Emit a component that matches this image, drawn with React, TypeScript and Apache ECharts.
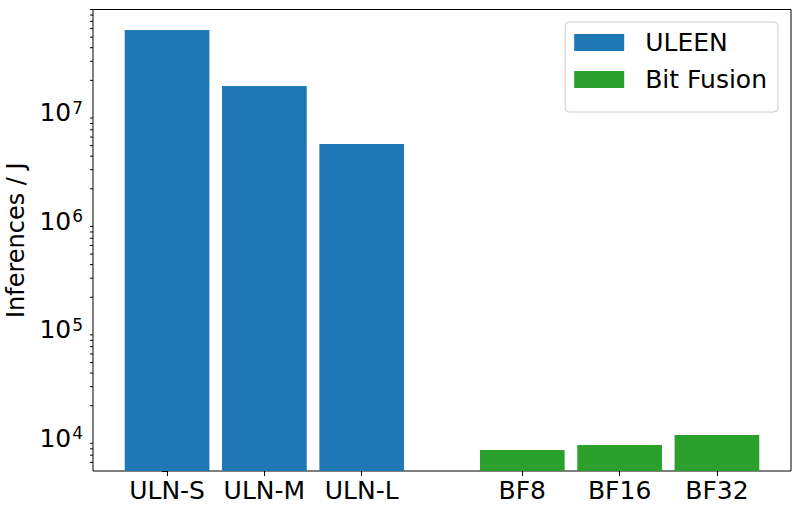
import React, { useEffect, useRef } from "react";
import * as echarts from "echarts";

// ---- data ----
const categories = ["ULN-S", "ULN-M", "ULN-L", "BF8", "BF16", "BF32"];
const xPositions = [0, 1, 2, 3.65, 4.65, 5.65];
const uleenValues = [5.83e7, 1.77e7, 5.18e6];
const bitFusionValues = [7800, 8670, 10720];
const yMajorTicks = [1e4, 1e5, 1e6, 1e7];
const yMinorTicks = [
  6000, 7000, 8000, 9000,
  2e4, 3e4, 4e4, 5e4, 6e4, 7e4, 8e4, 9e4,
  2e5, 3e5, 4e5, 5e5, 6e5, 7e5, 8e5, 9e5,
  2e6, 3e6, 4e6, 5e6, 6e6, 7e6, 8e6, 9e6,
  2e7, 3e7, 4e7, 5e7, 6e7, 7e7, 8e7, 9e7,
];

// ---- layout / style constants ----
const X_MIN = -0.761;
const X_MAX = 6.411;
const Y_MIN = 5000;
const Y_MAX = 9.0e7;
const BAR_W = 0.87;
const FONT = "DejaVu Sans";
const BLUE = "#1f77b4";
const GREEN = "#2ca02c";

const renderBar = (params: any, api: any) => {
  const x = api.value(0);
  const v = api.value(1);
  const p1 = api.coord([x - BAR_W / 2, v]);
  const p2 = api.coord([x + BAR_W / 2, Y_MIN]);
  return {
    type: "rect",
    shape: { x: p1[0], y: p1[1], width: p2[0] - p1[0], height: p2[1] - p1[1] },
    style: { fill: api.visual("color") },
  };
};

const makeTickRenderer = (len: number) => (params: any, api: any) => {
  const p = api.coord([api.value(0), api.value(1)]);
  return {
    type: "rect",
    shape: { x: p[0] - len, y: p[1] - 0.5, width: len, height: 1 },
    style: { fill: "#000" },
  };
};

export default function App() {
  const ref = useRef<HTMLDivElement>(null);
  useEffect(() => {
    if (!ref.current) return;
    const chart = echarts.init(ref.current, undefined, { renderer: "svg" });
    const uleenData = uleenValues.map((v, i) => [xPositions[i], v]);
    const bfData = bitFusionValues.map((v, i) => [xPositions[i + uleenValues.length], v]);
    chart.setOption({
      animation: false,
      backgroundColor: "#fff",
      grid: {
        left: 93,
        right: 9,
        top: 9.5,
        bottom: 44,
        show: true,
        borderColor: "#000",
        borderWidth: 1,
        backgroundColor: "transparent",
        outerBoundsMode: "none",
      },
      legend: {
        orient: "vertical",
        right: 22,
        top: 22,
        data: [
          { name: "ULEEN", icon: "rect" },
          { name: "Bit Fusion", icon: "rect" },
        ],
        itemWidth: 50,
        itemHeight: 17,
        itemGap: 12,
        padding: [8, 11, 20, 9],
        backgroundColor: "#fff",
        borderColor: "#cccccc",
        borderWidth: 1,
        borderRadius: 4,
        selectedMode: false,
        textStyle: { fontFamily: FONT, fontSize: 25, color: "#000", padding: [0, 0, 0, 16] },
      },
      xAxis: {
        type: "value",
        min: X_MIN,
        max: X_MAX,
        splitLine: { show: false },
        axisLine: { show: false },
        axisTick: {
          show: true,
          customValues: xPositions,
          length: 5,
          lineStyle: { color: "#000", width: 1 },
        },
        axisLabel: {
          customValues: xPositions,
          formatter: (v: number) => {
            const i = xPositions.findIndex((p) => Math.abs(p - v) < 1e-6);
            return i >= 0 ? categories[i] : "";
          },
          fontFamily: FONT,
          fontSize: 25,
          color: "#000",
          margin: 7,
        },
      },
      yAxis: {
        type: "log",
        logBase: 10,
        min: Y_MIN,
        max: Y_MAX,
        name: "Inferences / J",
        nameLocation: "middle",
        nameGap: 62,
        nameTextStyle: { fontFamily: FONT, fontSize: 24, color: "#000" },
        splitLine: { show: false },
        axisLine: { show: false },
        axisTick: { show: true, length: 5, lineStyle: { color: "#000", width: 1 } },
        axisLabel: {
          margin: 10,
          formatter: (v: number) => {
            const e = Math.round(Math.log10(v));
            const p = Math.pow(10, e);
            if (Math.abs(v - p) / p < 1e-6 && yMajorTicks.indexOf(p) >= 0) {
              return `{b|10}{s|${e}}`;
            }
            return "";
          },
          rich: {
            b: { fontFamily: FONT, fontSize: 25, color: "#000" },
            s: { fontFamily: FONT, fontSize: 17, color: "#000", verticalAlign: "top", padding: [0, 0, 10, 1] },
          },
        },
      },
      series: [
        {
          name: "ULEEN",
          type: "custom",
          renderItem: renderBar,
          itemStyle: { color: BLUE },
          data: uleenData,
          silent: true,
        },
        {
          name: "Bit Fusion",
          type: "custom",
          renderItem: renderBar,
          itemStyle: { color: GREEN },
          data: bfData,
          silent: true,
        },
        {
          name: "yMinorTicks",
          type: "custom",
          renderItem: makeTickRenderer(3),
          data: yMinorTicks.map((v) => [X_MIN, v]),
          clip: false,
          silent: true,
          z: 10,
        },
      ],
    });
    return () => chart.dispose();
  }, []);
  return (
    <div
      ref={ref}
      style={{ position: "absolute", left: 0, top: 0, width: 800, height: 515 }}
    />
  );
}
